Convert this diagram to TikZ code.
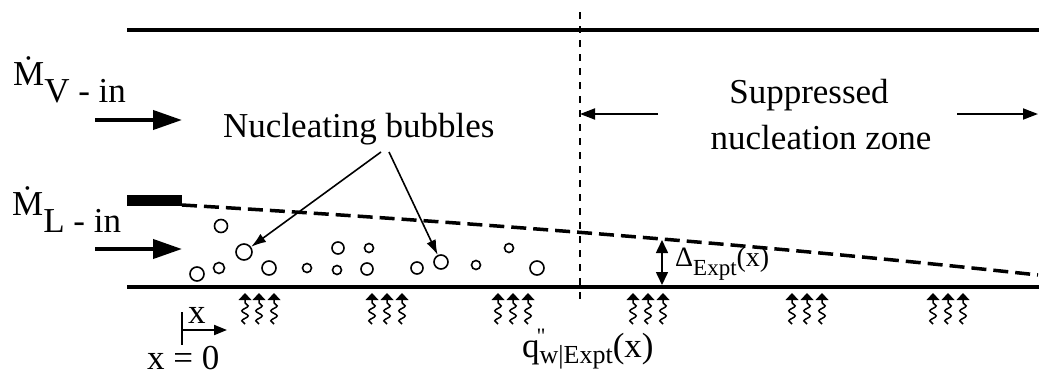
\documentclass[tikz,border=0pt]{standalone}
\usepackage{fontspec}
\setmainfont{Liberation Serif}
\usetikzlibrary{arrows.meta,decorations.pathmorphing}
\tikzset{
  wall/.style={line width=4pt},
  bigarrow/.style={line width=4pt,-{Triangle[length=29pt,width=19pt]}},
  thinarrow/.style={line width=1.6pt,-{Latex[length=15pt,width=10pt]}},
  zonearrow/.style={line width=1.8pt,-{Triangle[length=15pt,width=11pt]}},
  dimarrow/.style={line width=1.6pt,{Triangle[length=13pt,width=12pt]}-{Triangle[length=13pt,width=12pt]}},
  xarrow/.style={line width=2pt,-{Triangle[length=13pt,width=10pt]}},
  filmline/.style={line width=3.5pt,dash pattern=on 15pt off 7pt},
  zoneline/.style={line width=1.6pt,dash pattern=on 7pt off 7pt},
  bubble/.style={circle,draw,line width=1.6pt,inner sep=0pt,minimum size=#1},
  txt/.style={font=\fontsize{35}{40}\selectfont,inner sep=0pt,anchor=base west},
  ctxt/.style={font=\fontsize{35}{40}\selectfont,inner sep=0pt,anchor=base},
  heatwave/.pic={
    \draw[line width=1.5pt,decorate,decoration={snake,amplitude=3.2pt,segment length=10pt}] (0,31) -- (0,6.5);
    \fill (-6.5,7) -- (6.5,7) -- (0,0) -- cycle;
  }
}
\begin{document}
\begin{tikzpicture}[x=1pt,y=-1pt]
\useasboundingbox (0,0) rectangle (1039,375);

% walls
\coordinate (tl) at (127,30);
\coordinate (tr) at (1039,30);
\coordinate (bl) at (127,287);
\coordinate (br) at (1039,287);
\draw[wall] (tl) -- (tr);
\draw[wall] (bl) -- (br);

% zone boundary
\coordinate (vt) at (580,12);
\coordinate (vb) at (580,303);
\draw[zoneline] (vt) -- (vb);

% liquid film lip and interface
\fill (127,195) rectangle (182,206);
\coordinate (lip) at (182,205);
\coordinate (fend) at (1038,275);
\draw[filmline] (lip) .. controls (467,222) and (753,244) .. (fend);

% inlet labels and arrows
\node[txt] (mv) at (13,85) {\.{M}\raisebox{-17pt}{V - in}};
\node[txt] (ml) at (12,215) {\.{M}\raisebox{-17pt}{L - in}};
\coordinate (av0) at (95,120);
\coordinate (av1) at (182,120);
\coordinate (al0) at (95,249);
\coordinate (al1) at (182,249);
\draw[bigarrow] (av0) -- (av1);
\draw[bigarrow] (al0) -- (al1);

% bubbles
\node[bubble=13pt] (b1) at (221,226) {};
\node[bubble=16pt] (b2) at (244,252) {};
\node[bubble=14pt] (b3) at (197,274) {};
\node[bubble=11pt] (b4) at (219,268) {};
\node[bubble=14pt] (b5) at (269,268) {};
\node[bubble=9pt] (b6) at (307,268) {};
\node[bubble=12pt] (b7) at (338,248) {};
\node[bubble=9pt] (b8) at (369,248) {};
\node[bubble=9pt] (b9) at (337,270) {};
\node[bubble=12pt] (b10) at (367,269) {};
\node[bubble=12pt] (b11) at (417,268) {};
\node[bubble=14pt] (b12) at (441,262) {};
\node[bubble=9pt] (b13) at (476,265) {};
\node[bubble=9pt] (b14) at (509,248) {};
\node[bubble=14pt] (b15) at (537,268) {};

% nucleating bubbles label
\node[txt] (nb) at (223,137) {Nucleating bubbles};
\coordinate (n1) at (381,152);
\coordinate (n2) at (389,152);
\draw[thinarrow] (n1) -- (b2);
\draw[thinarrow] (n2) -- (b12);

% suppressed zone
\node[ctxt] (sz1) at (809,103) {Suppressed};
\node[ctxt] (sz2) at (821,149) {nucleation zone};
\coordinate (zl0) at (658,114);
\coordinate (zl1) at (580,114);
\coordinate (zr0) at (957,114);
\coordinate (zr1) at (1038,114);
\draw[zonearrow] (zl0) -- (zl1);
\draw[zonearrow] (zr0) -- (zr1);

% film thickness
\coordinate (d0) at (662,240);
\coordinate (d1) at (662,285);
\draw[dimarrow] (d0) -- (d1);
\node[txt] (dl) at (675,266) {\fontsize{28}{30}\selectfont Δ\raisebox{-9pt}{\fontsize{23}{23}\selectfont Expt}(x)};

% heat flux arrows
\foreach \x in {245,259,274, 372,387,402, 498,513,528, 633,648,663, 792,807,822, 933,948,963}
  \pic at (\x,293) {heatwave};

% axial coordinate
\coordinate (x0t) at (182,312);
\coordinate (x0b) at (182,345);
\coordinate (xa) at (182,330);
\coordinate (xb) at (227,330);
\draw[line width=2pt] (x0t) -- (x0b);
\draw[xarrow] (xa) -- (xb);
\node[txt] (xl) at (188,323) {x};
\node[txt] (x0) at (147,369) {x = 0};

% heat flux label
\node[txt] (ql) at (522,357) {q\rlap{\kern-3pt\raisebox{14pt}{\fontsize{22}{22}\selectfont\textquotedbl}}\raisebox{-6pt}{\fontsize{26}{26}\selectfont w|Expt}(x)};
\end{tikzpicture}
\end{document}
